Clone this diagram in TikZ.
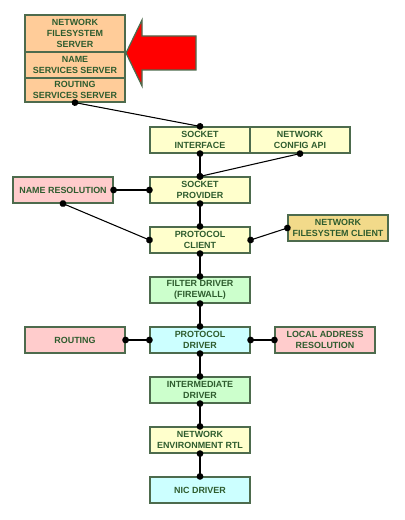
\documentclass[tikz,border=0pt]{standalone}
\usepackage{fontspec}
\setmainfont{Liberation Sans}
\usetikzlibrary{positioning, arrows.meta}

\definecolor{edgegreen}{HTML}{4D6B4D}
\definecolor{textgreen}{HTML}{2E5C2E}
\definecolor{peach}{HTML}{FFCC99}
\definecolor{paleyellow}{HTML}{FFFFCC}
\definecolor{palepink}{HTML}{FFCCCC}
\definecolor{palegreen}{HTML}{CCFFCC}
\definecolor{palecyan}{HTML}{CCFFFF}
\definecolor{gold}{HTML}{F2DA8A}
\definecolor{arrowred}{HTML}{FF0000}

\begin{document}
\begin{tikzpicture}[x=0.75pt, y=-0.75pt, node distance=17.1pt and 17.85pt]
	% ----- Styles -----
	\tikzset{
		box/.style={
			rectangle, draw=edgegreen, line width=0.9pt,
			minimum width=75pt, minimum height=19.5pt, inner sep=1pt,
			align=center, text=textgreen,
			font=\fontsize{6.7}{8}\selectfont\bfseries
		},
		server/.style={box, fill=peach},
		api/.style={box, fill=paleyellow},
		helper/.style={box, fill=palepink},
		filter/.style={box, fill=palegreen},
		driver/.style={box, fill=palecyan},
		client/.style={box, fill=gold},
		link/.style={line width=0.8pt, {Circle[length=5pt]}-{Circle[length=5pt]},
			shorten <=-2.5pt, shorten >=-2.5pt}
	}
	\useasboundingbox (0,0) rectangle (404,520);
	% ----- Server stack -----
	\node (rsrv) [server, minimum height=18pt] at (75,90) {ROUTING\\SERVICES SERVER};
	\node (nsrv) [server, above=-0.9pt of rsrv] {NAME\\SERVICES SERVER};
	\node (fsrv) [server, minimum height=27.75pt, above=-0.9pt of nsrv] {NETWORK\\FILESYSTEM\\SERVER};
	% big red arrow
	\draw[draw=edgegreen, fill=arrowred, line width=0.9pt]
		(126,53) -- (142,20) -- (142,36) -- (196,36) -- (196,70) -- (142,70) -- (142,86) -- cycle;
	% ----- Nodes -----
	\node (sockif)  [api] at (200,140) {SOCKET\\INTERFACE};
	\node (cfgapi)  [api, right=-0.9pt of sockif] {NETWORK\\CONFIG API};
	\node (sprov)   [api, below=of sockif] {SOCKET\\PROVIDER};
	\node (nres)    [helper, left=26.85pt of sprov] {NAME RESOLUTION};
	\node (pclient) [api, below=of sprov] {PROTOCOL\\CLIENT};
	\node (nfsc)    [client, right=27.6pt of pclient, yshift=9pt] {NETWORK\\FILESYSTEM CLIENT};
	\node (fdrv)    [filter, below=of pclient] {FILTER DRIVER\\(FIREWALL)};
	\node (pdrv)    [driver, below=of fdrv] {PROTOCOL\\DRIVER};
	\node (rout)    [helper, left=of pdrv] {ROUTING};
	\node (lar)     [helper, right=of pdrv] {LOCAL ADDRESS\\RESOLUTION};
	\node (imdrv)   [filter, below=of pdrv] {INTERMEDIATE\\DRIVER};
	\node (rtl)     [api, below=of imdrv] {NETWORK\\ENVIRONMENT RTL};
	\node (nic)     [driver, below=of rtl] {NIC DRIVER};
	% ----- Links -----
	\draw[link] (rsrv.south) -- (sockif.north);
	\draw[link] (sockif.south) -- (sprov.north);
	\draw[link] (cfgapi.south) -- (sprov.north);
	\draw[link] (nres.east) -- (sprov.west);
	\draw[link] (nres.south) -- (pclient.west);
	\draw[link] (pclient.east) -- (nfsc.west);
	\draw[link] (pdrv.west) -- (rout.east);
	\draw[link] (pdrv.east) -- (lar.west);
	\foreach \a/\b in {sprov/pclient, pclient/fdrv, fdrv/pdrv, pdrv/imdrv, imdrv/rtl, rtl/nic}{
		\draw[link] (\a.south) -- (\b.north);
	}
\end{tikzpicture}
\end{document}
